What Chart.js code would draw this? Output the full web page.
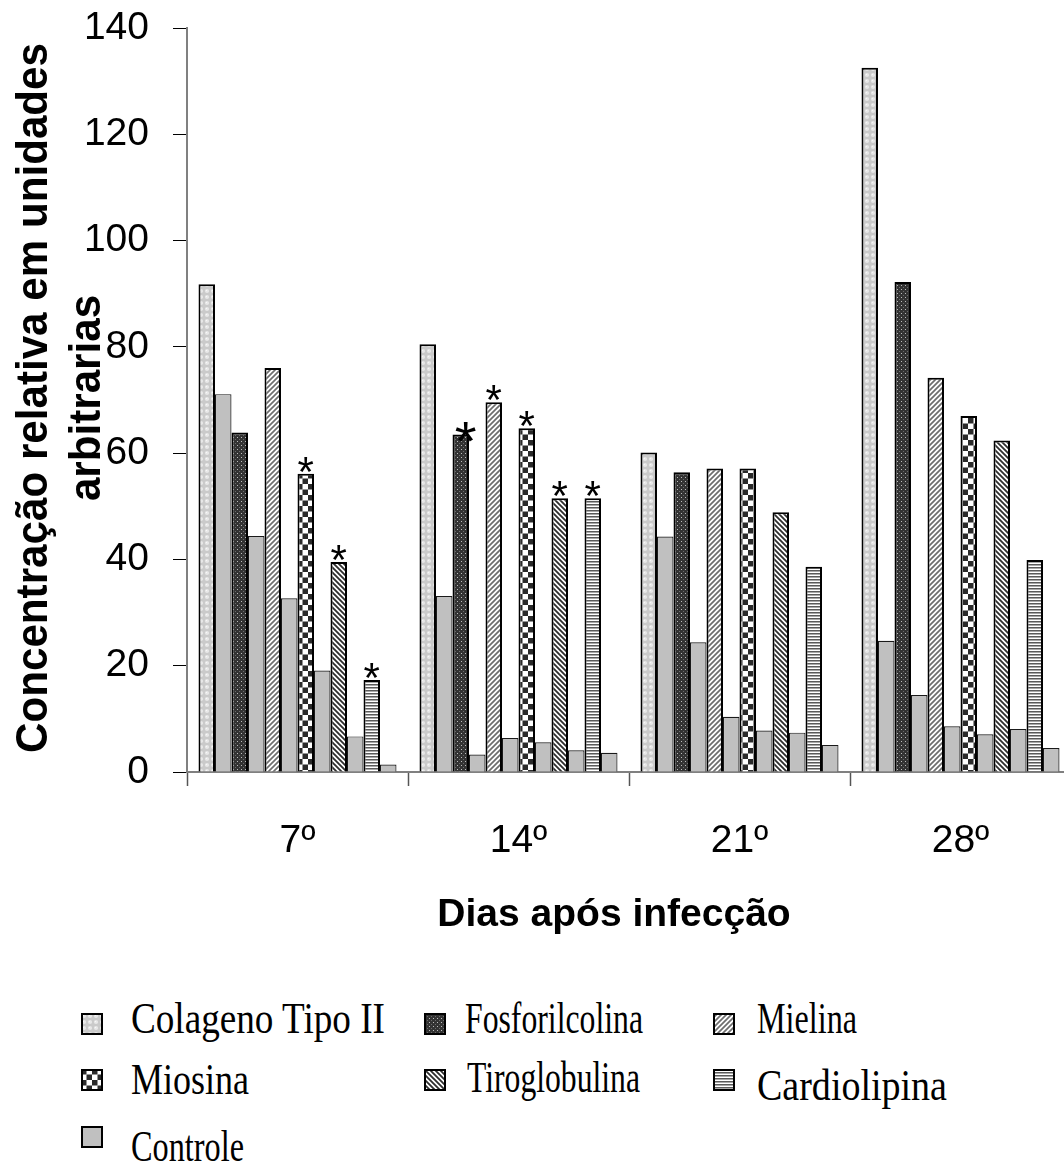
<!DOCTYPE html>
<html>
<head>
<meta charset="utf-8">
<script src="https://cdn.jsdelivr.net/npm/chart.js@4.4.1/dist/chart.umd.min.js"></script>
<style>
  html, body { margin: 0; padding: 0; background: #fff; overflow: hidden; width: 1064px; height: 1171px; }
  #wrap { position: absolute; left: 0; top: 0; width: 1071px; height: 960px; }
  .lg { position: absolute; font-family: "Liberation Serif", "Times New Roman", serif; font-size: 44px; line-height: 44px; color: #000; white-space: nowrap; transform-origin: 0 0; }
  .sw { position: absolute; }
</style>
</head>
<body>
<div id="wrap"><canvas id="c"></canvas></div>
<div id="legend"></div>
<script>
// ---- data ----
const categories = ['7º', '14º', '21º', '28º'];
const antigenNames = ['Colageno Tipo II', 'Fosforilcolina', 'Mielina', 'Miosina', 'Tiroglobulina', 'Cardiolipina'];
const controlName = 'Controle';

const colageno        = [91.8, 80.5, 60.1, 132.5];
const controleColageno = [71.1, 33.1, 44.3, 24.7];
const fosforilcolina  = [63.9, 63.5, 56.4, 92.2];
const controleFosforilcolina = [44.4, 3.3, 24.4, 14.5];
const mielina         = [76.0, 69.6, 57.1, 74.2];
const controleMielina = [32.7, 6.4, 10.4, 8.6];
const miosina         = [56.1, 64.7, 57.1, 67.0];
const controleMiosina = [19.1, 5.6, 7.8, 7.1];
const tiroglobulina   = [39.5, 51.5, 48.9, 62.4];
const controleTiroglobulina = [6.7, 4.1, 7.4, 8.1];
const cardiolipina    = [17.3, 51.5, 38.6, 39.9];
const controleCardiolipina = [1.4, 3.6, 5.1, 4.5];

// significance markers (1 = asterisk, 2 = large asterisk)
const sigColageno      = [0, 0, 0, 0];
const sigFosforilcolina = [0, 2, 0, 0];
const sigMielina       = [0, 1, 0, 0];
const sigMiosina       = [1, 1, 0, 0];
const sigTiroglobulina = [1, 1, 0, 0];
const sigCardiolipina  = [1, 1, 0, 0];

const yTicks = [0, 20, 40, 60, 80, 100, 120, 140];
const xTitle = 'Dias após infecção';
const yTitle = ['Concentração relativa em unidades', 'arbitrarias'];

// ---- patterns ----
function tile(size, draw) {
  const c = document.createElement('canvas');
  c.width = size; c.height = size;
  const g = c.getContext('2d');
  draw(g, size);
  return c;
}
const tiles = {
  colageno: tile(6, (g, s) => {
    g.fillStyle = '#cacaca'; g.fillRect(0, 0, s, s);
    g.fillStyle = '#e8e8e8'; g.beginPath(); g.arc(3, 3, 2.1, 0, Math.PI * 2); g.fill();
    g.fillStyle = '#f8f8f8'; g.fillRect(2, 2, 1, 1);
  }),
  fosfo: tile(4, (g, s) => {
    g.fillStyle = '#333333'; g.fillRect(0, 0, s, s);
    g.fillStyle = '#bdbdbd'; g.fillRect(1, 1, 1, 1);
    g.fillStyle = '#6a6a6a'; g.fillRect(3, 3, 1, 1);
  }),
  mielina: tile(5, (g, s) => {
    g.fillStyle = '#ffffff'; g.fillRect(0, 0, s, s);
    g.strokeStyle = '#6e6e6e'; g.lineWidth = 1.7;
    g.beginPath();
    g.moveTo(-1, s + 1); g.lineTo(s + 1, -1);
    g.moveTo(-1, 1); g.lineTo(1, -1);
    g.moveTo(s - 1, s + 1); g.lineTo(s + 1, s - 1);
    g.stroke();
  }),
  miosina: tile(11, (g, s) => {
    g.fillStyle = '#ffffff'; g.fillRect(0, 0, s, s);
    g.fillStyle = '#2a2a2a';
    g.fillRect(0, 0, 5.5, 5.5); g.fillRect(5.5, 5.5, 5.5, 5.5);
  }),
  tiro: tile(5, (g, s) => {
    g.fillStyle = '#ffffff'; g.fillRect(0, 0, s, s);
    g.strokeStyle = '#2e2e2e'; g.lineWidth = 1.8;
    g.beginPath();
    g.moveTo(-1, -1); g.lineTo(s + 1, s + 1);
    g.moveTo(s - 1, -1); g.lineTo(s + 1, 1);
    g.moveTo(-1, s - 1); g.lineTo(1, s + 1);
    g.stroke();
  }),
  cardio: tile(3, (g, s) => {
    g.fillStyle = '#ffffff'; g.fillRect(0, 0, s, s);
    g.fillStyle = '#5a5a5a'; g.fillRect(0, 0, s, 1);
    g.fillStyle = '#a8a8a8'; g.fillRect(0, 1, s, 1);
  })
};
const ctx = document.getElementById('c').getContext('2d');
function pat(name) { return ctx.createPattern(tiles[name], 'repeat'); }
const controlColor = '#c0c0c0';

const antigenSeries = [
  { label: antigenNames[0], data: colageno, ctrl: controleColageno, tile: 'colageno', sig: sigColageno },
  { label: antigenNames[1], data: fosforilcolina, ctrl: controleFosforilcolina, tile: 'fosfo', sig: sigFosforilcolina },
  { label: antigenNames[2], data: mielina, ctrl: controleMielina, tile: 'mielina', sig: sigMielina },
  { label: antigenNames[3], data: miosina, ctrl: controleMiosina, tile: 'miosina', sig: sigMiosina },
  { label: antigenNames[4], data: tiroglobulina, ctrl: controleTiroglobulina, tile: 'tiro', sig: sigTiroglobulina },
  { label: antigenNames[5], data: cardiolipina, ctrl: controleCardiolipina, tile: 'cardio', sig: sigCardiolipina }
];

const datasets = [];
antigenSeries.forEach((s) => {
  datasets.push({
    label: s.label, data: s.data, sig: s.sig,
    backgroundColor: pat(s.tile), borderColor: '#000', borderWidth: 2, borderSkipped: 'bottom'
  });
  datasets.push({
    label: controlName, data: s.ctrl,
    backgroundColor: controlColor, borderColor: '#1a1a1a', borderWidth: 1.2, borderSkipped: 'bottom'
  });
});

const asteriskPlugin = {
  id: 'asterisks',
  afterDatasetsDraw(chart) {
    const g = chart.ctx;
    g.save();
    g.fillStyle = '#000';
    g.textAlign = 'center';
    g.textBaseline = 'alphabetic';
    chart.data.datasets.forEach((ds, di) => {
      if (!ds.sig) return;
      const meta = chart.getDatasetMeta(di);
      ds.sig.forEach((level, i) => {
        if (!level) return;
        const bar = meta.data[i];
        const big = level === 2;
        g.font = (big ? '56px' : '42px') + ' "Liberation Sans", Arial, sans-serif';
        const m = g.measureText('*');
        const bottomGap = big ? -7 : 1;
        const y = bar.y - bottomGap - m.actualBoundingBoxDescent;
        g.fillText('*', bar.x + (big ? 5 : 0), y);
      });
    });
    g.restore();
  }
};

const titlesPlugin = {
  id: 'titles',
  afterDraw(chart) {
    const g = chart.ctx;
    g.save();
    g.fillStyle = '#000';
    // x title
    g.font = 'bold 39px "Liberation Sans", Arial, sans-serif';
    g.textAlign = 'center';
    g.textBaseline = 'alphabetic';
    g.fillText(xTitle, 614, 926);
    // y title (rotated, condensed bold)
    g.font = 'bold 45px "Liberation Sans Narrow", "Liberation Sans", Arial, sans-serif';
    const w = g.measureText(yTitle[0]).width;
    const sx = 710 / w;
    const cy = 398;
    [47, 100].forEach((bx, k) => {
      g.save();
      g.translate(bx, cy);
      g.rotate(-Math.PI / 2);
      g.scale(sx, 1);
      g.fillText(yTitle[k], 0, 0);
      g.restore();
    });
    g.restore();
  }
};

Chart.defaults.font.family = '"Liberation Sans", Arial, sans-serif';
Chart.defaults.color = '#000';

const chart = new Chart(ctx, {
  type: 'bar',
  data: { labels: categories, datasets },
  options: {
    responsive: true,
    maintainAspectRatio: false,
    animation: false,
    events: [],
    layout: { padding: { top: 28, right: 0, left: 0, bottom: 0 } },
    datasets: { bar: { categoryPercentage: 0.896, barPercentage: 1.0 } },
    plugins: { legend: { display: false }, tooltip: { enabled: false } },
    scales: {
      x: {
        border: { color: '#808080', width: 2 },
        grid: { offset: true, drawOnChartArea: false, drawTicks: true, tickLength: 14, tickColor: '#555', tickWidth: 1.5 },
        ticks: { font: { size: 39 }, padding: 32, color: '#000' },
        afterFit(scale) { scale.height = 188; scale.paddingLeft = 0; scale.paddingRight = 0; }
      },
      y: {
        min: 0, max: 140,
        afterBuildTicks(scale) { scale.ticks = yTicks.map(v => ({ value: v })); },
        border: { color: '#808080', width: 2 },
        grid: { drawOnChartArea: false, drawTicks: true, tickLength: 14, tickColor: '#000', tickWidth: 1 },
        ticks: { font: { size: 39 }, padding: 24, color: '#000' },
        afterFit(scale) { scale.width = 187; scale.paddingTop = 0; scale.paddingBottom = 0; }
      }
    }
  },
  plugins: [asteriskPlugin, titlesPlugin]
});

// ---- legend (HTML) ----
const legendItems = [
  { text: antigenNames[0], tile: 'colageno', sx: 81,  sy: 1013, tx: 131, base: 1034, w: 254 },
  { text: antigenNames[1], tile: 'fosfo',    sx: 424, sy: 1013, tx: 465, base: 1034, w: 178 },
  { text: antigenNames[2], tile: 'mielina',  sx: 713, sy: 1013, tx: 757, base: 1034, w: 100 },
  { text: antigenNames[3], tile: 'miosina',  sx: 81,  sy: 1069, tx: 131, base: 1095, w: 118 },
  { text: antigenNames[4], tile: 'tiro',     sx: 424, sy: 1069, tx: 467, base: 1093, w: 173 },
  { text: antigenNames[5], tile: 'cardio',   sx: 713, sy: 1069, tx: 757, base: 1101, w: 190 },
  { text: controlName,     tile: null,       sx: 81,  sy: 1126, tx: 131, base: 1162, w: 113 }
];
const legend = document.getElementById('legend');
legendItems.forEach(it => {
  const c = document.createElement('canvas');
  c.width = 22; c.height = 22; c.className = 'sw';
  c.style.left = it.sx + 'px'; c.style.top = it.sy + 'px';
  const g = c.getContext('2d');
  g.fillStyle = it.tile ? g.createPattern(tiles[it.tile], 'repeat') : controlColor;
  g.fillRect(0, 0, 22, 22);
  g.strokeStyle = '#000'; g.lineWidth = 2;
  g.strokeRect(1, 1, 20, 20);
  legend.appendChild(c);
  const d = document.createElement('div');
  d.className = 'lg';
  d.textContent = it.text;
  d.style.left = it.tx + 'px';
  d.style.top = (it.base - 37) + 'px';
  legend.appendChild(d);
  const natural = d.getBoundingClientRect().width;
  d.style.transform = 'scaleX(' + (it.w / natural) + ')';
});
</script>
</body>
</html>
